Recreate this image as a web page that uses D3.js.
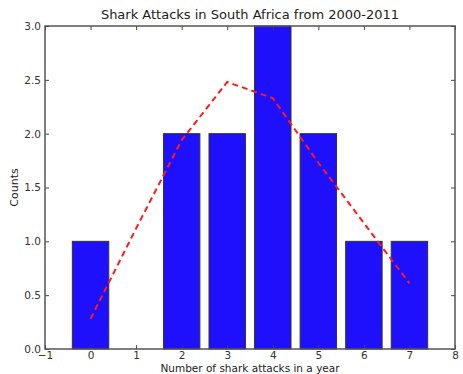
<!DOCTYPE html>
<html><head><meta charset="utf-8">
<script src="https://cdn.jsdelivr.net/npm/d3@7"></script>
<style>body{margin:0;background:#fff;} svg{display:block;font-family:"DejaVu Sans",sans-serif;}</style>
</head><body>
<script>
const categories = [0,1,2,3,4,5,6,7];
const counts = [1,0,2,2,3,2,1,1];
const fitValues = [0.28,1.12,1.94,2.48,2.33,1.73,1.17,0.61];
const xTicks = [-1,0,1,2,3,4,5,6,7,8];
const yTicks = [0,0.5,1,1.5,2,2.5,3];

const W=463,H=374;
const m={left:45,right:8,top:26,bottom:25};
const svg=d3.select("body").append("svg").attr("width",W).attr("height",H);
const x=d3.scaleLinear().domain([-1,8]).range([m.left,W-m.right]);
const y=d3.scaleLinear().domain([0,3]).range([H-m.bottom,m.top]);
const bw=0.8;

svg.append("g").selectAll("rect").data(categories).join("rect")
 .attr("x",(d)=>x(d-bw/2)).attr("width",x(bw)-x(0))
 .attr("y",(d,i)=>y(counts[i])).attr("height",(d,i)=>y(0)-y(counts[i]))
 .attr("fill","#1f10fb").attr("stroke","#333").attr("stroke-width",1);

svg.append("path").datum(categories)
 .attr("d",d3.line().x(d=>x(d)).y((d,i)=>y(fitValues[i])))
 .attr("fill","none").attr("stroke","#ff1a1a").attr("stroke-width",2).attr("stroke-dasharray","6,4");

const tc="#444";
const gx=svg.append("g").attr("transform",`translate(0,${y(0)})`)
 .call(d3.axisBottom(x).tickValues(xTicks).tickFormat(d3.format("d")).tickSizeInner(-4).tickSizeOuter(0).tickPadding(3));
const gxt=svg.append("g").attr("transform",`translate(0,${y(3)})`)
 .call(d3.axisTop(x).tickValues(xTicks).tickFormat("").tickSizeInner(-4).tickSizeOuter(0));
const gy=svg.append("g").attr("transform",`translate(${x(-1)},0)`)
 .call(d3.axisLeft(y).tickValues(yTicks).tickFormat(d3.format(".1f")).tickSizeInner(-4).tickSizeOuter(0).tickPadding(4));
const gyr=svg.append("g").attr("transform",`translate(${x(8)},0)`)
 .call(d3.axisRight(y).tickValues(yTicks).tickFormat("").tickSizeInner(-4).tickSizeOuter(0));
[gx,gxt,gy,gyr].forEach(g=>{g.select(".domain").remove();g.selectAll("line").attr("stroke",tc);
 g.selectAll("text").attr("fill","#333").style("font-size","10.5px").style("font-family","DejaVu Sans");});

svg.append("rect").attr("x",x(-1)).attr("y",y(3)).attr("width",x(8)-x(-1)).attr("height",y(0)-y(3))
 .attr("fill","none").attr("stroke","#555").attr("stroke-width",1.5);

svg.append("text").attr("x",(x(-1)+x(8))/2).attr("y",19).attr("text-anchor","middle")
 .style("font-size","13px").attr("fill","#222").text("Shark Attacks in South Africa from 2000-2011");
svg.append("text").attr("x",(x(-1)+x(8))/2).attr("y",372).attr("text-anchor","middle")
 .style("font-size","10.5px").attr("fill","#222").text("Number of shark attacks in a year");
svg.append("text").attr("transform",`translate(18,${(y(0)+y(3))/2}) rotate(-90)`).attr("text-anchor","middle")
 .style("font-size","11px").attr("fill","#222").text("Counts");
</script>
</body></html>
